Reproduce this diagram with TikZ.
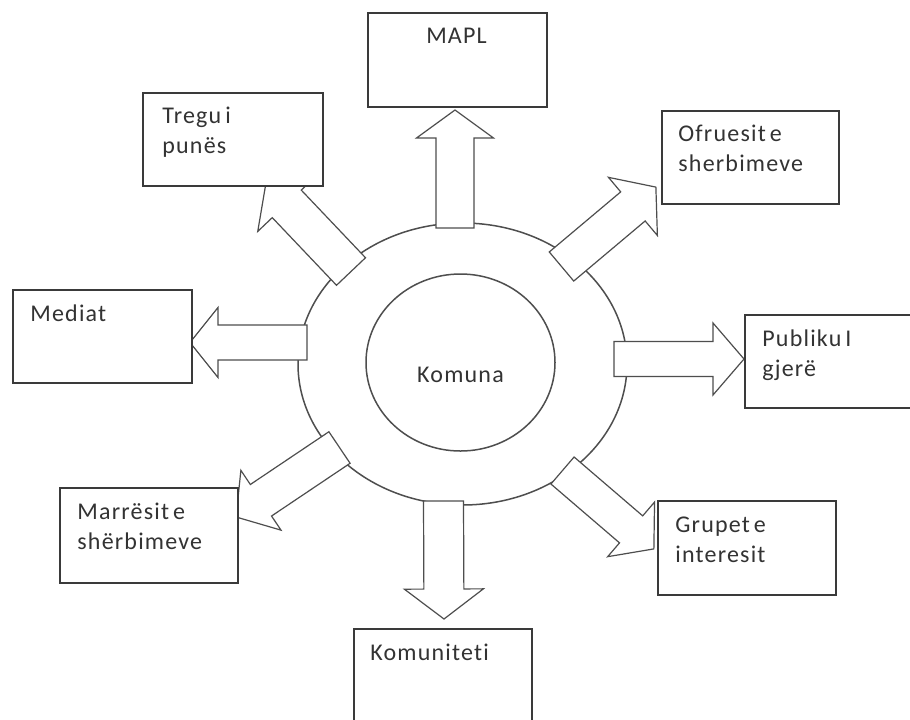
\documentclass[tikz,border=0pt]{standalone}
\usepackage{fontspec}
\setmainfont{Carlito}[LetterSpace=5, WordSpace=0.6, Ligatures=NoCommon]
\usetikzlibrary{shapes.geometric,calc}
\definecolor{linec}{HTML}{4E4E4E}
\definecolor{boxc}{HTML}{3A3A3A}
\definecolor{txtc}{HTML}{333333}
\newcommand\firstln{\rule{0pt}{9.5pt}}
\tikzset{
  box/.style={draw=boxc, line width=1pt, fill=white, inner sep=0pt, anchor=north west},
  lbl/.style={text=txtc, font=\fontsize{12}{15}\selectfont, inner sep=0pt, align=left, anchor=north west},
  oval/.style={draw=linec, line width=0.75pt, ellipse, inner sep=0pt},
  arrowline/.style={draw=linec, line width=0.6pt, fill=white, line join=miter},
}
% #1 tail, #2 tip, #3 shaft half width, #4 head half width, #5 head length
\newcommand\blockarrow[5]{%
  \draw[arrowline] let \p1=(#1), \p2=(#2),
    \n1={atan2(\y2-\y1,\x2-\x1)}, \n2={veclen(\x2-\x1,\y2-\y1)} in
    [shift={(\p1)}, rotate=\n1]
    (0pt,-#3) -- ({\n2*1pt-#5},-#3) -- ({\n2*1pt-#5},-#4) -- ({\n2*1pt},0pt)
    -- ({\n2*1pt-#5},#4) -- ({\n2*1pt-#5},#3) -- (0pt,#3) -- cycle;}
\begin{document}
\begin{tikzpicture}[x=0.5pt,y=-0.5pt]
\clip (0,0) rectangle (910,719);
\fill[white] (0,0) rectangle (910,719);

% central ellipses
\node[oval, minimum width=164.5pt, minimum height=141pt] (ring) at (462.5,364) {};
\node[oval, minimum width=94.5pt, minimum height=88.5pt, text=txtc,
      font=\fontsize{12}{15}\selectfont, text height=19.5pt, text depth=0pt] (core) at (460.5,362.5) {Komuna};

% arrow end points
\coordinate (mapl-t) at (455,228);      \coordinate (mapl-h) at (455,110);
\coordinate (publiku-t) at (614,359);   \coordinate (publiku-h) at (744,359);
\coordinate (mediat-t) at (307,342.5);  \coordinate (mediat-h) at (190,342.5);
\coordinate (komun-t) at (443.5,501);   \coordinate (komun-h) at (444,619);
\coordinate (tregu-t) at (351,271.5);   \coordinate (tregu-h) at (266,182);
\coordinate (ofrues-t) at (561.5,266.5); \coordinate (ofrues-h) at (656,187);
\coordinate (marres-t) at (339.5,447.5); \coordinate (marres-h) at (236,517);
\coordinate (grupet-t) at (562.5,470.5); \coordinate (grupet-h) at (654,549);

% block arrows
\blockarrow{mapl-t}{mapl-h}{9.5pt}{19.25pt}{14pt}
\blockarrow{publiku-t}{publiku-h}{8.75pt}{18pt}{15.5pt}
\blockarrow{mediat-t}{mediat-h}{8.75pt}{17.5pt}{14pt}
\blockarrow{komun-t}{komun-h}{10pt}{19.75pt}{15pt}
\blockarrow{tregu-t}{tregu-h}{10pt}{20pt}{15pt}
\blockarrow{ofrues-t}{ofrues-h}{9.5pt}{19pt}{15pt}
\blockarrow{marres-t}{marres-h}{9.5pt}{18pt}{15pt}
\blockarrow{grupet-t}{grupet-h}{8.9pt}{18pt}{15pt}

% boxes
\node[box, minimum width=89.5pt, minimum height=47pt]   (mapl)     at (367,12)  {};
\node[box, minimum width=90pt,   minimum height=46.5pt] (tregu)    at (142,92)  {};
\node[box, minimum width=88.5pt, minimum height=46.5pt] (ofruesit) at (661,110) {};
\node[box, minimum width=89.5pt, minimum height=46.5pt] (mediat)   at (12,289)  {};
\node[box, minimum width=89.5pt, minimum height=46.5pt] (publiku)  at (744,314) {};
\node[box, minimum width=89pt,   minimum height=47.5pt] (marresit) at (59,487)  {};
\node[box, minimum width=89pt,   minimum height=47pt]   (grupet)   at (657,500) {};
\node[box, minimum width=89pt,   minimum height=47pt]   (komuniteti) at (353,628) {};

% labels
\node[lbl, anchor=north] at ([shift={(-1,12)}]mapl.north) {\firstln MAPL};
\node[lbl] at ([shift={(20,12)}]tregu.north west) {\firstln Tregu i\\punës};
\node[lbl] at ([shift={(17,11.7)}]ofruesit.north west) {\firstln Ofruesit e\\sherbimeve};
\node[lbl] at ([shift={(18,12.7)}]mediat.north west) {\firstln Mediat};
\node[lbl] at ([shift={(18,13)}]publiku.north west) {\firstln Publiku I\\gjerë};
\node[lbl] at ([shift={(18,13)}]marresit.north west) {\firstln Marrësit e\\shërbimeve};
\node[lbl] at ([shift={(18,13)}]grupet.north west) {\firstln Grupet e\\interesit};
\node[lbl] at ([shift={(17,13)}]komuniteti.north west) {\firstln Komuniteti};
\end{tikzpicture}
\end{document}
